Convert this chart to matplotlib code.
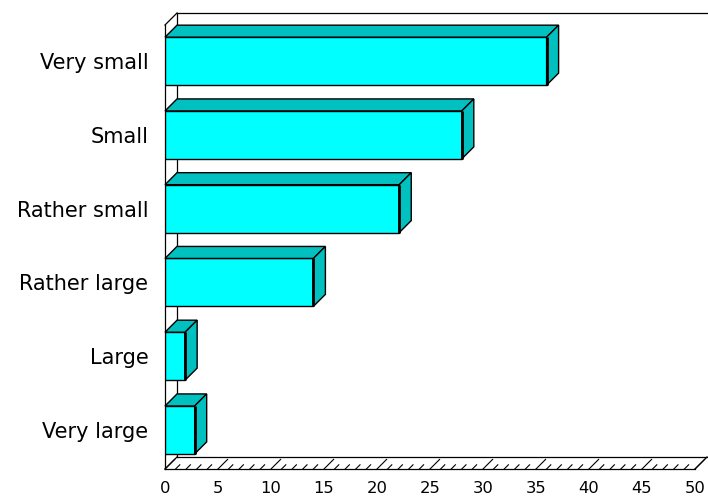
import matplotlib.pyplot as plt
from matplotlib.patches import Polygon

categories = ['Very small', 'Small', 'Rather small', 'Rather large', 'Large', 'Very large']
values = [36.0, 28.0, 22.1, 14.0, 1.9, 2.8]
xticks = [0, 5, 10, 15, 20, 25, 30, 35, 40, 45, 50]

front = '#00FFFF'
side = '#00C0C0'

W, H = 708, 496
fig = plt.figure(figsize=(W / 100, H / 100), dpi=100)
# axes box = front plane of the 3-d frame, in pixels
left, right, top, bottom = 165, 695, 25, 469
ax = fig.add_axes([left / W, 1 - bottom / H, (right - left) / W, (bottom - top) / H])

xmax = 50
ytop, ybot = -0.49, 5.53
ax.set_xlim(0, xmax)
ax.set_ylim(ybot, ytop)

# depth of the pseudo 3-d effect, 12 px, in data units
depth_px = 12
dx = depth_px * xmax / (right - left)
dy = depth_px * (ybot - ytop) / (bottom - top)

kw = dict(color='black', lw=0.9, clip_on=False, zorder=1)
# left wall
ax.plot([0, 0], [ytop, ybot], **kw)
ax.plot([dx, dx], [ytop - dy, ybot - dy], **kw)
ax.plot([0, dx], [ytop, ytop - dy], **kw)
# back top edge
ax.plot([dx, xmax + dx], [ytop - dy, ytop - dy], **kw)
# floor
ax.plot([0, xmax], [ybot, ybot], **kw)
ax.plot([dx, xmax + dx], [ybot - dy, ybot - dy], **kw)
ax.plot([0, dx], [ybot, ybot - dy], **kw)
ax.plot([xmax, xmax + dx], [ybot, ybot - dy], **kw)
for v in range(0, xmax + 1):
    f = 0.8 if v % 5 == 0 else 0.35
    ax.plot([v, v + f * dx], [ybot, ybot - f * dy], color='black', lw=0.8, clip_on=False, zorder=1)

h = 0.65
ax.barh(range(len(categories)), values, height=h, color=front, edgecolor='black', linewidth=1.0, zorder=3)
for i, v in enumerate(values):
    y0 = i - h / 2
    y1 = i + h / 2
    topface = Polygon([(0, y0), (v, y0), (v + dx, y0 - dy), (dx, y0 - dy)], closed=True,
                      facecolor=side, edgecolor='black', lw=1.0, zorder=3, clip_on=False)
    sideface = Polygon([(v, y0), (v, y1), (v + dx, y1 - dy), (v + dx, y0 - dy)], closed=True,
                       facecolor=side, edgecolor='black', lw=1.0, zorder=3, clip_on=False)
    ax.add_patch(topface)
    ax.add_patch(sideface)
    ax.plot([v, v], [y0, y1], color='black', lw=2, zorder=4, solid_capstyle='butt')

for s in ax.spines.values():
    s.set_visible(False)
ax.set_yticks(range(len(categories)))
ax.set_yticklabels(categories, fontsize=15, family='DejaVu Sans')
ax.set_xticks(xticks)
ax.set_xticklabels([str(t) for t in xticks], fontsize=11.8, family='DejaVu Sans')
ax.tick_params(axis='y', length=0, pad=12)
ax.tick_params(axis='x', length=0, pad=8.5)

fig.savefig('out.png', dpi=100)
